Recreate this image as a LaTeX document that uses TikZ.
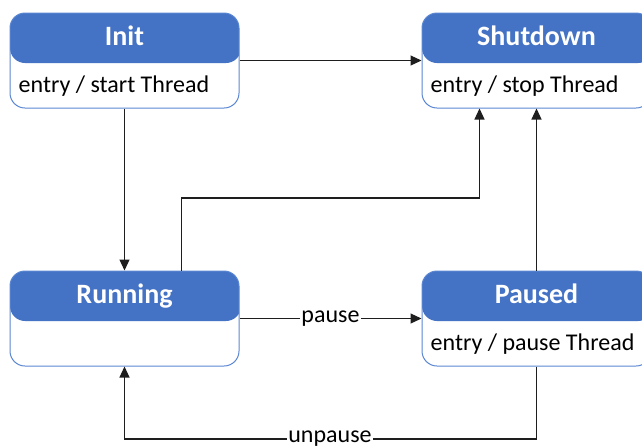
\documentclass[tikz,border=0pt]{standalone}
\usepackage{fontspec}
\setmainfont{Carlito}
\usetikzlibrary{arrows.meta,calc}
\definecolor{hdr}{HTML}{4472C4}
\definecolor{boxline}{HTML}{5B87D2}
\definecolor{wire}{HTML}{1E1E1E}
\tikzset{
  state/.style={rectangle, rounded corners=15pt, minimum width=229pt,
    minimum height=95pt, draw=boxline, line width=1pt, fill=white,
    path picture={\fill[hdr] ([yshift=2pt]path picture bounding box.north west)
      rectangle ([yshift=-50pt,xshift=2pt]path picture bounding box.north east);}},
  title/.style={anchor=base, text=white, font=\fontsize{28}{33}\selectfont\bfseries, inner sep=0pt},
  body/.style={anchor=base west, font=\fontsize{24}{28}\selectfont, inner sep=0pt},
  conn/.style={draw=wire, line width=1.2pt, -{Triangle[length=11pt,width=10pt]}},
  lbl/.style={fill=white, inner sep=1pt, font=\fontsize{24}{28}\selectfont}
}
\begin{document}
\begin{tikzpicture}[x=1pt,y=-1pt]
  \useasboundingbox (0,0) rectangle (642,445);
  \clip (0,0) rectangle (642,445);

  % states
  \node[state] (init)   at (124.5,60.5)  {};
  \node[state] (shut)   at (536.5,60.5)  {};
  \node[state] (run)    at (124.5,318.5) {};
  \node[state] (paused) at (536.5,318.5) {};

  % state names
  \node[title] (init-t)   at ([yshift=-33pt]init.north)   {Init};
  \node[title] (shut-t)   at ([yshift=-33pt]shut.north)   {Shutdown};
  \node[title] (run-t)    at ([yshift=-33pt]run.north)    {Running};
  \node[title] (paused-t) at ([yshift=-33pt]paused.north) {Paused};

  % entry actions
  \node[body] (init-b)   at ([xshift=9pt,yshift=-80pt]init.north west)   {entry / start Thread};
  \node[body] (shut-b)   at ([xshift=9pt,yshift=-80pt]shut.north west)   {entry / stop Thread};
  \node[body] (paused-b) at ([xshift=9pt,yshift=-80pt]paused.north west) {entry / pause Thread};

  % routing points
  \coordinate (kneeA) at (330,198);
  \coordinate (kneeB) at (330,439);

  % transitions
  \draw[conn] (init.east) -- (shut.west);
  \draw[conn] (init.south) -- (run.north);
  \draw[conn] ([xshift=57pt]run.north) |- (kneeA) -| ([xshift=-57pt]shut.south);
  \draw[conn] (paused.north) -- (shut.south);
  \draw[conn] (run.east) -- node[lbl] (pause-l) {pause} (paused.west);
  \draw[conn] (paused.south) |- (kneeB) -| (run.south);
  \node[lbl] (unpause-l) at (kneeB) {unpause};
\end{tikzpicture}
\end{document}
